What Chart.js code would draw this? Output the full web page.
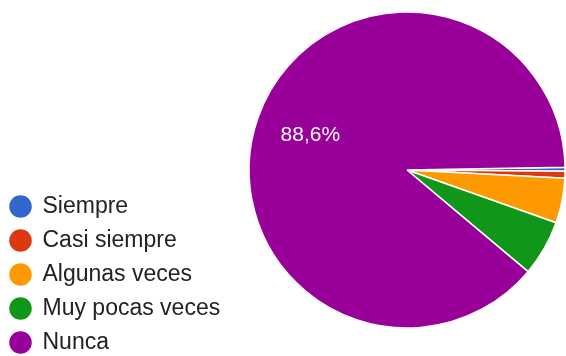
<!DOCTYPE html>
<html>
<head>
<meta charset="utf-8">
<script src="https://cdn.jsdelivr.net/npm/chart.js@4/dist/chart.umd.min.js"></script>
<style>
  html, body { margin: 0; padding: 0; background: #fff; overflow: hidden; }
  body { width: 566px; height: 356px; }
  #c { display: block; margin-left: -1px; margin-top: -25px; }
</style>
</head>
<body>
<canvas id="c" width="585" height="390"></canvas>
<script>
// Survey answers and their share of responses (%)
const categories = ['Siempre', 'Casi siempre', 'Algunas veces', 'Muy pocas veces', 'Nunca'];
const shares = [0.4, 0.7, 4.6, 5.7, 88.6];
const sliceColors = ['#3366cc', '#dc3912', '#ff9900', '#109618', '#990099'];

const FONT = '"Liberation Sans", Arial, sans-serif';

// Writes the percentage inside slices that are large enough to hold it
const sliceLabels = {
  id: 'sliceLabels',
  afterDatasetsDraw(chart) {
    const ctx = chart.ctx;
    const meta = chart.getDatasetMeta(0);
    meta.data.forEach((arc, i) => {
      const v = shares[i];
      if (v < 10) return;
      const p = arc.getProps(['x', 'y', 'startAngle', 'endAngle', 'outerRadius'], true);
      const mid = (p.startAngle + p.endAngle) / 2;
      const r = p.outerRadius * 0.65;
      ctx.save();
      ctx.font = '21px ' + FONT;
      ctx.fillStyle = '#ffffff';
      ctx.textAlign = 'center';
      ctx.textBaseline = 'middle';
      ctx.fillText(v.toFixed(1).replace('.', ',') + '%', p.x + Math.cos(mid) * r, p.y + Math.sin(mid) * r);
      ctx.restore();
    });
  }
};

new Chart(document.getElementById('c'), {
  type: 'pie',
  data: {
    labels: categories,
    datasets: [{
      data: shares,
      backgroundColor: sliceColors,
      borderColor: '#ffffff',
      borderWidth: 1.5,
      radius: 158
    }]
  },
  options: {
    responsive: false,
    animation: false,
    rotation: 89,
    layout: { padding: 0 },
    plugins: {
      tooltip: { enabled: false },
      legend: {
        position: 'left',
        align: 'end',
        labels: {
          usePointStyle: true,
          pointStyle: 'circle',
          boxWidth: 21,
          boxHeight: 17,
          padding: 11,
          color: '#222222',
          font: { family: FONT, size: 23 }
        }
      }
    }
  },
  plugins: [sliceLabels]
});
</script>
</body>
</html>
